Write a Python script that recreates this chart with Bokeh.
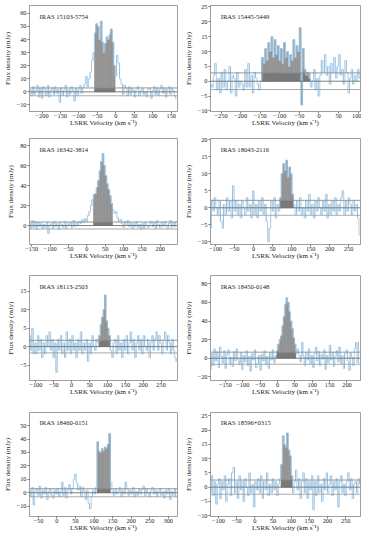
from bokeh.plotting import figure
from bokeh.models import Range1d, Label, Span, SingleIntervalTicker
from bokeh.layouts import gridplot
from bokeh.embed import file_html
from bokeh.resources import INLINE

FONT = "Liberation Serif"

# ---------------- data ----------------
names = ["IRAS 15103-5754", "IRAS 15445-5449", "IRAS 16342-3814", "IRAS 18043-2116",
         "IRAS 18113-2503", "IRAS 18450-0148", "IRAS 18460-0151", "IRAS 18596+0315"]
v_start = [-232, -276, -156, -113, -118, -193, -74, -122]   # km/s, first channel
v_step = [4, 4, 4, 4, 4, 4, 4, 4]                           # channel width km/s

flux_1 = [2, -3, 4, -2, 1, 5, -4, 3, -5, 4, 2, -3, 5, -4, 1, 3, -2, 4, -1, 2,
          -8, 3, -3, 1, 5, -4, 2, -2, 4, 1, -7, 3, -3, 2, 5, -1, 3,
          6, 12, 4, 10, 15, 24, 30, 45, 52, 50, 40, 54, 38, 30, 37, 42, 40, 44, 48, 38,
          20, 12, 28, 22, 10, 6, -2, 5, 3, -3,
          4, -2, 3, 1, -4, 2, 4, -3, 1, 3, -2, 0, -4, 2, 3, -5, 1, 4, -2, 3,
          -3, 2, 5, -1, 3, -4, 2, 4, -2, 3, 1, -3, -5]
flux_2 = [-1, -2, 2, 6, -3, 1, -4, 3, -2, 4, -3, 0, 5, -4, 2, 1, -5, 3, -2, 0,
          -1, -3, 4, -2, 6, -2, 2, -4, 3, 1, -1, -3, 0,
          8, 6, 11, 7, 13, 10, 15, 8, 14, 9, 12, 7, 11, 6, 13, 8, 10, 5, 9, 7,
          14, 8, 12, 10, 18, -8, 11, 4, 2, 3, 1,
          -2, 0, 4, -3, 1, -5, 2, 7, 3, 9, 2, 5, -1, 6, 3, 8, 1, 5, 9, 2,
          4, -1, 7, 3, -4, 1, 4, -1, 2, 0, 4, 1]
flux_3 = [2, -3, 5, -2, 4, -4, 3, -1, 2, -3, 1, -2, 3, -8, 0, 2, -3, 4, -1, 2,
          -4, 3, 1, -2, 4, -3, 2, 0, 3, -2, 5, -1, 3, 1, 4, 2, 6, 3, 7,
          4, 10, 14, 20, 26, 31, 32, 38, 45, 55, 64, 72, 60, 50, 42, 36, 30, 22, 16, 12,
          14, 8, 4, 6, 2,
          -2, 4, 1, 5, -1, 3, -3, 2, -1, 4, -2, 1, -4, 2, -3, 3, 0, -2, 2, 4,
          -1, 3, -3, 5, 1, -2, 3, -1, 4, 0, -3, 2, 5, -2, 3, -1, 4]
flux_4 = [-6, 2, -1, 3, 0, -2, 2, -4, -6, 1, -2, 3, -1, 2, -3, 6.5, -1, 2, -2, 1,
          -3, 2, 0, -2, 3, -1, 1, -3, 5, -2, 1, -3, 2, -1, 3, -2, 1, -4, -10, -6,
          2, -1, 3, -3, 1, -1, 3,
          10, 13, 11, 14, 9, 12, 10, 4,
          1, -2, 2, -1, 3, -2, 0, -3, 2, -1, 4, -2, 1, -3, 2, -1, 3, 0, -2, 2,
          -1, 4, -3, 1, -2, 2, -1, 3, -2, 1, -1, 3, 5, -2, 2, -1, 3, 1, -2, 2,
          -1, 1, -3, -8]
flux_5 = [3, -1, 5, -2, 1, -2, 3, -1, 2, -3, 1, -2, 3, 0, 4, -1, 2, -3, 1, -7,
          2, -1, 3, -2, 1, -3, 4, -1, 2, -2, 3, -1, 1, -3, 2, -1, 4, -2, 1, -1,
          2, -4, 1, -2, 3, 0, -1, 2, 1,
          3, 6, 8, 10, 14, 7, 5, 3,
          -1, -3, 1, 2, -2, 3, -1, 1, -3, 2, -1, 3, -2, 1, 4, -1, 2, -3, 1, 3,
          -1, 2, -2, 3, 0, -1, 2, -3, 1, 3, -1, 2, 4, -1, 3, 1, -2, 2, 4, -1,
          3, 1, -2, 2, -1, -3, -4]
flux_6 = [-12, 5, -8, 10, -3, 7, -10, 12, 2, -5, 8, -11, 4, 9, -6, 1, -9, 7, -3, 10,
          -1, -7, 6, -12, 3, -4, 8, -8, 2, -14, 5, -2, 9, -10, -6, 3, -13, 4, -3, 8,
          -7, 2, -11, 6, -2, 9, -5, 3,
          8, 15, 20, 24, 35, 45, 58, 65, 60, 50, 40, 32, 22, 15, 5, 10,
          3, -4, 17, 2, -8, 6, -2, 10, -6, 3, -10, 5, 12, -3, 7, -8, 4, -1, 9, -12,
          3, -5, 14, -2, 6, -9, 2, 8, -4, 12, -6, 3, -11, 5, 9, -3, -13, 6, 1, -8,
          10, 17, -5, 17]
flux_7 = [2, -3, 4, -9, 1, 3, -2, 5, -4, 2, -1, 4, -5, 1, 3, -2, -4, 2, -1, 3,
          -3, 1, 8, -2, 4, -4, 2, 6, -1, 3, 10, 14, 7, 2, 5, -3, 4, 1, -5, 2,
          -8, -12, -3, 2, -1, 4,
          38, 31, 30, 33, 31, 34, 33, 36, 44, 8,
          2, -2, 3, -1, 1, 4, -3, 2, -1, 8, 3, -2, 2, -1, 4, -3, 1, -2, 3, -1,
          2, 5, -2, 3, 0, -3, 2, 4, -1, 2, -3, 1, 3, -2, 1, -4, 2, -1, 3, -5,
          1, -2, 3, -3]
flux_8 = [-2, 4, -3, 2, -6, 1, 3, -4, 2, -1, 4, -5, 1, 3, -3, 5, 7, -2, 2, -4,
          4, -1, 2, -5, 3, 0, -3, 5, -2, 1, -7, 2, -1, 3, -2, 4, -4, 2, -1, 5,
          -3, 1, -2, 3, -1, 2, -3, 1, 3,
          8, 18, 15, 14, 19, 13, 11, 4,
          -2, 2, 6, -1, 3, -4, 2, 5, -2, 3, -4, 2, -1, 4, -8, 2, -3, 4, -2, 1,
          -5, 3, -1, 5, -2, 1, 4, -3, 2, -1, 3, -7, 2, 4, -2, 1, -3, 2, 5, -1,
          3, -4, 1, 2, -2, 3, 1]
fluxes = [flux_1, flux_2, flux_3, flux_4, flux_5, flux_6, flux_7, flux_8]

# integration windows (km/s) and noise level (mJy)
win_lo = [-58, -146, 19, 70, 76, -3, 108, 72]
win_hi = [-2, -22, 71, 106, 108, 53, 144, 104]
rms = [3.0, 2.8, 3.5, 2.2, 1.7, 6.5, 3.0, 2.5]

# axis limits and tick spacing
x_lo = [-234, -277, -156, -113, -118, -193, -74, -122]
x_hi = [167, 106, 247, 281, 296, 239, 325, 291]
y_lo = [-15, -10.2, -19, -10.8, -9.2, -24, -17.7, -10.3]
y_hi = [66, 25.5, 87, 20.4, 19.3, 89, 59.8, 26.2]
x_tick = [50, 50, 50, 50, 50, 50, 50, 50]
y_tick = [10, 5, 20, 5, 5, 20, 10, 5]

x_title = "LSRK Velocity (km s\u207b\u00b9)"
y_title = "Flux density (mJy)"

# ---------------- layout ----------------
col_w = [181, 180]
col_bl = [20, 29]
col_br = [4, 1]
row_h = [131, 133, 136, 136]
row_bt = [5, 7, 11, 12]
BB = 20

LIGHT = "#aacfea"
DARK = "#6aa2cf"


def make_panel(k):
    r, c = divmod(k, 2)
    p = figure(width=col_w[c], height=row_h[r], output_backend="svg", toolbar_location=None,
               x_range=Range1d(x_lo[k], x_hi[k]), y_range=Range1d(y_lo[k], y_hi[k]),
               min_border_left=col_bl[c], min_border_right=col_br[c],
               min_border_top=row_bt[r], min_border_bottom=BB)
    p.xgrid.visible = False
    p.ygrid.visible = False
    p.outline_line_color = "#a0a0a0"
    p.outline_line_width = 1
    p.background_fill_color = "white"
    p.border_fill_color = "white"

    dv = v_step[k]
    f = fluxes[k]
    v = [v_start[k] + i * dv for i in range(len(f))]

    # integrated-emission bars
    vw = [vv for vv in v if win_lo[k] <= vv <= win_hi[k]]
    fw = [ff for vv, ff in zip(v, f) if win_lo[k] <= vv <= win_hi[k]]
    p.vbar(x=vw, top=fw, bottom=0, width=dv, fill_color="#999999", fill_alpha=0.95,
           line_color="#858585", line_width=0.5)
    p.quad(left=[min(vw) - dv / 2], right=[max(vw) + dv / 2], bottom=[0], top=[rms[k]],
           fill_color="#5e5e5e", fill_alpha=0.5, line_color=None)

    # spectrum
    p.step(x=v, y=f, mode="center", line_color=LIGHT, line_width=0.9)
    xs = [v[i] - dv / 2 for i in range(1, len(v))]
    p.segment(x0=xs, y0=f[:-1], x1=xs, y1=f[1:], line_color=DARK, line_width=0.7,
              line_alpha=[0.6 if i % 2 else 0.15 for i in range(1, len(v))])

    # zero and noise levels
    p.add_layout(Span(location=0, dimension="width", line_color="#707070", line_width=0.9))
    p.add_layout(Span(location=rms[k], dimension="width", line_color="#8c8c8c", line_width=0.9))
    p.add_layout(Span(location=-rms[k], dimension="width", line_color="#a0a0a0", line_width=0.9))

    # source label
    xr = x_hi[k] - x_lo[k]
    yr = y_hi[k] - y_lo[k]
    p.add_layout(Label(x=x_lo[k] + 0.068 * xr, y=y_hi[k] - 0.10 * yr, text=names[k],
                       text_font=FONT, text_font_size="6.6px", text_color="#222222",
                       text_baseline="middle"))

    for ax, tick, title in ((p.xaxis[0], x_tick[k], x_title), (p.yaxis[0], y_tick[k], y_title)):
        ax.ticker = SingleIntervalTicker(interval=tick, num_minor_ticks=0)
        ax.axis_label = title
        ax.axis_label_text_font = FONT
        ax.axis_label_text_font_size = "7px"
        ax.axis_label_text_font_style = "normal"
        ax.axis_label_text_color = "#222222"
        ax.major_label_text_font = FONT
        ax.major_label_text_font_size = "6.3px"
        ax.major_label_text_color = "#222222"
        ax.major_tick_in = 0
        ax.major_tick_out = 2
        ax.major_tick_line_color = "#777777"
        ax.minor_tick_line_color = None
        ax.axis_line_color = "#a0a0a0"
    p.xaxis[0].major_label_standoff = 0
    p.xaxis[0].axis_label_standoff = -2
    p.yaxis[0].major_label_standoff = 1
    p.yaxis[0].axis_label_standoff = 2
    return p


panels = [make_panel(k) for k in range(8)]
grid = gridplot([[panels[0], panels[1]], [panels[2], panels[3]],
                 [panels[4], panels[5]], [panels[6], panels[7]]],
                toolbar_location=None)

open("out.html", "w").write(file_html(grid, INLINE))
